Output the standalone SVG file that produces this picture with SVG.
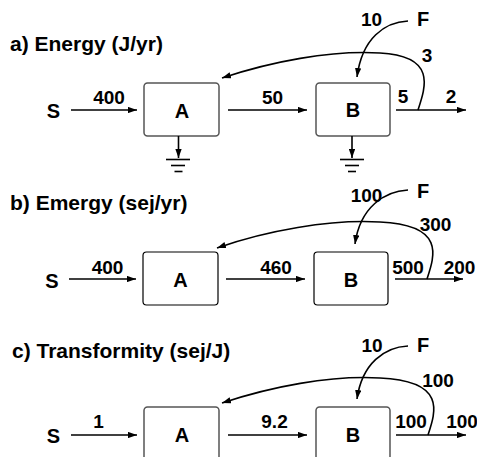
<svg xmlns="http://www.w3.org/2000/svg" width="477" height="457" viewBox="0 0 477 457">
<defs>
<marker id="ah" markerUnits="userSpaceOnUse" viewBox="0 0 10 7" refX="10" refY="3.5" markerWidth="9" markerHeight="6.5" orient="auto">
<path d="M0,0 L10,3.5 L0,7 z" fill="#000"/>
</marker>
<style>
text{font-family:"Liberation Sans",Arial,Helvetica,sans-serif;font-weight:bold;fill:#000}
.t{font-size:21px}
.n{font-size:19px;text-anchor:middle}
.l{font-size:20px;text-anchor:middle}
.bx{fill:#fff;stroke:#555;stroke-width:1.5}
.bk{fill:#fff;stroke:#000;stroke-width:1.2}
.c{fill:none;stroke:#000;stroke-width:1.6}
.a{fill:none;stroke:#000;stroke-width:1.6;marker-end:url(#ah)}
.g{stroke:#000;stroke-width:1.6}
</style>
</defs>
<rect width="477" height="457" fill="#fff"/>

<!-- titles -->
<text class="t" x="10" y="51">a) Energy (J/yr)</text>
<text class="t" x="10" y="210">b) Emergy (sej/yr)</text>
<text class="t" x="12" y="358">c) Transformity (sej/J)</text>

<!-- panel a nodes -->
<g id="a-S"><text class="l" x="53.5" y="118">S</text></g>
<g id="a-F"><text class="l" x="423" y="26">F</text></g>
<g id="a-A"><rect class="bx" x="144" y="83" width="75" height="53" rx="3.5"/><text class="l" x="182" y="118">A</text></g>
<g id="a-B"><rect class="bx" x="316" y="83" width="74" height="53" rx="3.5"/><text class="l" x="353" y="117">B</text></g>

<!-- panel b nodes -->
<g id="b-S"><text class="l" x="52" y="288">S</text></g>
<g id="b-F"><text class="l" x="423" y="198">F</text></g>
<g id="b-A"><rect class="bk" x="143" y="252" width="75" height="53" rx="3.5"/><text class="l" x="180.5" y="287">A</text></g>
<g id="b-B"><rect class="bk" x="314" y="252" width="74" height="53" rx="3.5"/><text class="l" x="351" y="287">B</text></g>

<!-- panel c nodes -->
<g id="c-S"><text class="l" x="53.5" y="443">S</text></g>
<g id="c-F"><text class="l" x="423" y="352">F</text></g>
<g id="c-A"><rect class="bx" x="144" y="407" width="75" height="53" rx="3.5"/><text class="l" x="182" y="442">A</text></g>
<g id="c-B"><rect class="bx" x="316" y="407" width="74" height="53" rx="3.5"/><text class="l" x="353" y="442">B</text></g>

<g id="connectors">
<!-- panel a -->
<line class="a" x1="71" y1="110" x2="137" y2="110"/>
<line class="a" x1="228" y1="110" x2="307" y2="110"/>
<line class="a" x1="396" y1="110" x2="466" y2="110"/>
<path class="a" d="M418,110 C426,86 436,56 380,53 C330,50 270,62 222,78"/>
<path class="a" d="M408,21 C385,22 362,38 357,77"/>
<g id="a-groundA">
<line class="a" x1="178.5" y1="136" x2="178.5" y2="158"/>
<line class="g" x1="166" y1="159.5" x2="190" y2="159.5"/>
<line class="g" x1="171" y1="165.5" x2="185" y2="165.5"/>
<line class="g" x1="174.5" y1="171.5" x2="182.5" y2="171.5"/>
</g>
<g id="a-groundB">
<line class="a" x1="352" y1="136" x2="352" y2="158"/>
<line class="g" x1="340" y1="159.5" x2="364" y2="159.5"/>
<line class="g" x1="345" y1="165.5" x2="359" y2="165.5"/>
<line class="g" x1="348" y1="171.5" x2="356" y2="171.5"/>
</g>
<!-- panel b -->
<line class="a" x1="69" y1="279" x2="136" y2="279"/>
<line class="a" x1="226" y1="279" x2="305" y2="279"/>
<line class="a" x1="395" y1="279" x2="463" y2="279"/>
<path class="a" d="M427,279 C435,255 445,225 380,222 C330,219 265,231 217,248"/>
<path class="a" d="M408,190 C385,191 360,207 355,244"/>
<!-- panel c -->
<line class="a" x1="71" y1="435" x2="137" y2="435"/>
<line class="a" x1="228" y1="435" x2="307" y2="435"/>
<line class="a" x1="396" y1="435" x2="466" y2="435"/>
<path class="a" d="M428,435 C436,411 446,381 380,378 C330,375 270,387 222,403"/>
<path class="a" d="M408,346 C385,347 362,363 357,399"/>
</g>

<!-- labels panel a -->
<text class="n" x="109" y="104">400</text>
<text class="n" x="272.5" y="104">50</text>
<text class="n" x="403" y="103">5</text>
<text class="n" x="451" y="103">2</text>
<text class="n" x="427" y="62">3</text>
<text class="n" x="371.5" y="26">10</text>
<!-- labels panel b -->
<text class="n" x="107.5" y="274">400</text>
<text class="n" x="276" y="274">460</text>
<text class="n" x="408" y="274">500</text>
<text class="n" x="459.5" y="274">200</text>
<text class="n" x="435.5" y="231">300</text>
<text class="n" x="366.5" y="202">100</text>
<!-- labels panel c -->
<text class="n" x="98.5" y="428">1</text>
<text class="n" x="274.5" y="428">9.2</text>
<text class="n" x="411" y="428">100</text>
<text class="n" x="462" y="428">100</text>
<text class="n" x="438" y="387">100</text>
<text class="n" x="372" y="352">10</text>
</svg>
